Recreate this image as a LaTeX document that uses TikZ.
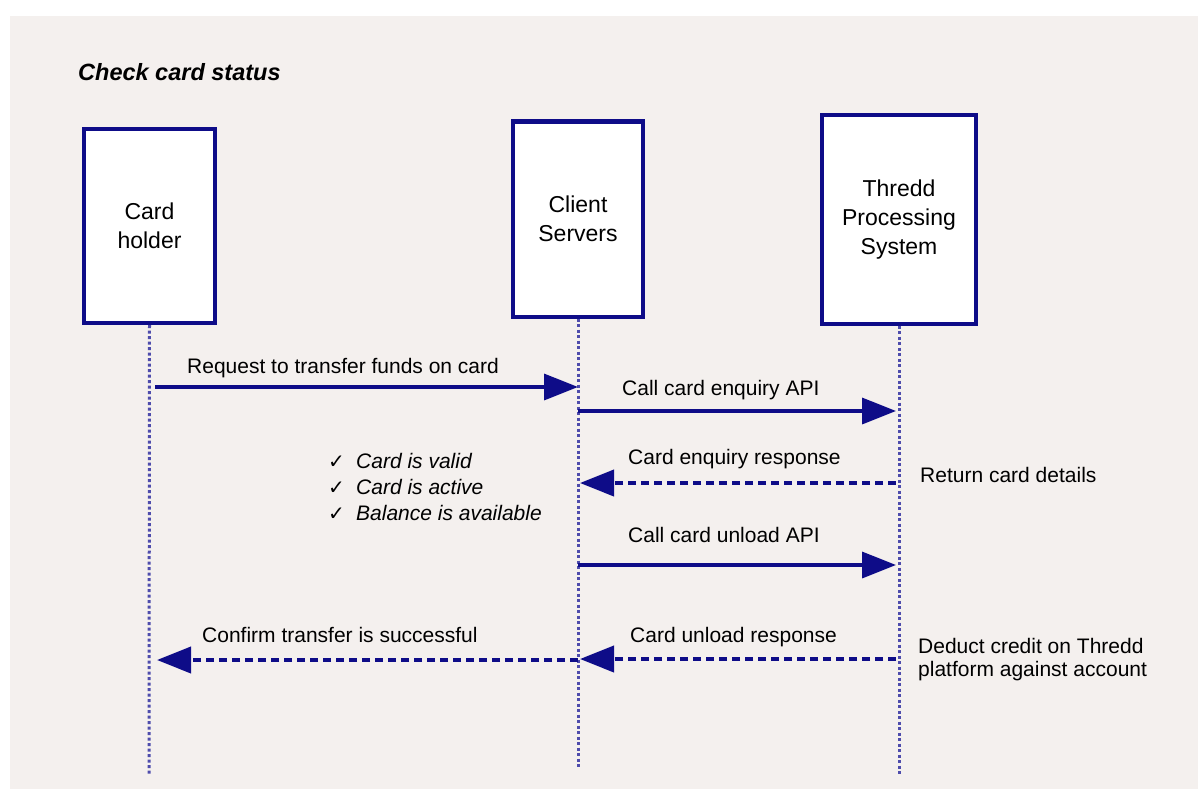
\documentclass[tikz,border=0pt]{standalone}
\usepackage{fontspec}
\setmainfont{Liberation Sans}
\newfontfamily\symfont{DejaVu Sans}
\usetikzlibrary{arrows.meta}
\definecolor{bgc}{RGB}{244,240,238}
\definecolor{navyc}{RGB}{14,12,136}
\definecolor{lifec}{RGB}{78,76,172}
\tikzset{
  actor/.style={draw=navyc, line width=4pt, fill=white, align=center,
    font=\fontsize{23}{29}\selectfont, inner sep=0pt},
  lifeline/.style={draw=lifec, line width=3pt, dash pattern=on 3pt off 2.5pt},
  msg/.style={draw=navyc, line width=3.5pt, -{Triangle[length=34pt,width=26pt]}},
  reply/.style={msg, line width=4pt, dash pattern=on 8pt off 5pt},
  lbl/.style={anchor=base west, inner sep=0pt, font=\fontsize{21}{23}\selectfont},
  tick/.style={lbl, font=\fontsize{20}{22}\selectfont\symfont},
  checktext/.style={lbl, font=\fontsize{21}{23}\selectfont\itshape},
}
\begin{document}
\begin{tikzpicture}[x=1pt,y=-1pt]
\useasboundingbox (0,0) rectangle (1198,789);
\fill[white] (0,0) rectangle (1198,789);
\fill[bgc] (10,16) rectangle (1198,789);

\node[lbl, font=\fontsize{23.5}{26}\selectfont\bfseries\itshape] (title) at (78,81) {Check card status};

% actors
\node[actor, minimum width=131pt, minimum height=194pt] (ch) at (149.5,226) {Card\\holder};
\node[actor, minimum width=130pt, minimum height=195pt] (cs) at (578,219) {Client\\Servers};
\node[actor, minimum width=154pt, minimum height=208pt] (tp) at (899,219.5) {Thredd\\Processing\\System};

% lifeline ends
\coordinate (chE) at (149,775);
\coordinate (csE) at (578,768);
\coordinate (tpE) at (899,775);
\draw[lifeline] (ch.south) -- (chE);
\draw[lifeline] (cs.south) -- (csE);
\draw[lifeline] (tp.south) -- (tpE);

% message points
\coordinate (m1a) at (155,387);  \coordinate (m1b) at (578,387);
\coordinate (m2a) at (578,411);  \coordinate (m2b) at (896,411);
\coordinate (m3a) at (896,483);  \coordinate (m3b) at (580,483);
\coordinate (m4a) at (578,565);  \coordinate (m4b) at (896,565);
\coordinate (m5a) at (896,659);  \coordinate (m5b) at (580,659);
\coordinate (m6a) at (578,660);  \coordinate (m6b) at (157,660);

\draw[msg] (m1a) -- (m1b);
\draw[msg] (m2a) -- (m2b);
\draw[reply] (m3a) -- (m3b);
\draw[msg] (m4a) -- (m4b);
\draw[reply] (m5a) -- (m5b);
\draw[reply] (m6a) -- (m6b);

\node[lbl] (l1) at (187,373) {Request to transfer funds on card};
\node[lbl] (l2) at (622,395) {Call card enquiry API};
\node[lbl] (l3) at (628,464) {Card enquiry response};
\node[lbl] (l4) at (628,542) {Call card unload API};
\node[lbl] (l5) at (630,642) {Card unload response};
\node[lbl] (l6) at (202,642) {Confirm transfer is successful};

\node[lbl] (r1) at (920,482) {Return card details};
\node[lbl] (r2) at (918,653) {Deduct credit on Thredd};
\node[lbl] (r3) at (918,676) {platform against account};

\node[tick] (k1) at (328,468) {✓};
\node[tick] (k2) at (328,494) {✓};
\node[tick] (k3) at (328,520) {✓};
\node[checktext] (c1) at (356,468) {Card is valid};
\node[checktext] (c2) at (356,494) {Card is active};
\node[checktext] (c3) at (356,520) {Balance is available};
\end{tikzpicture}
\end{document}
